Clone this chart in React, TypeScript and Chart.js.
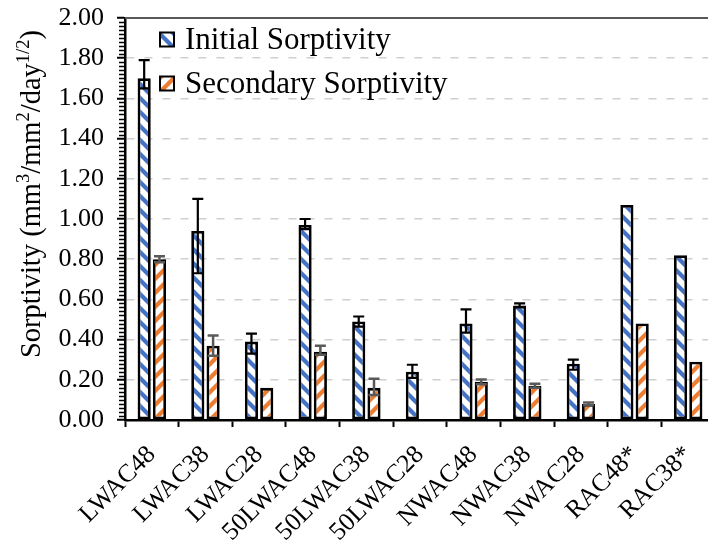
import React, { useEffect, useRef } from "react";
import { Chart, registerables } from "chart.js";

Chart.register(...registerables);

const categories = [
  "LWAC48", "LWAC38", "LWAC28", "50LWAC48", "50LWAC38", "50LWAC28",
  "NWAC48", "NWAC38", "NWAC28", "RAC48*", "RAC38*",
];
const initialValues = [1.70, 0.94, 0.39, 0.97, 0.49, 0.24, 0.48, 0.57, 0.28, 1.07, 0.82];
const initialErrPlus = [0.09, 0.16, 0.04, 0.03, 0.025, 0.035, 0.07, 0.01, 0.02, 0, 0];
const initialErrMinus = [0.05, 0.21, 0.06, 0.02, 0.025, 0.03, 0.045, 0.01, 0.03, 0, 0];
const secondaryValues = [0.80, 0.37, 0.16, 0.34, 0.16, null, 0.19, 0.17, 0.08, 0.48, 0.29];
const secondaryErrPlus = [0.015, 0.05, 0, 0.03, 0.045, 0, 0.012, 0.01, 0.007, 0, 0];
const secondaryErrMinus = [0.015, 0.05, 0, 0.015, 0.035, 0, 0.012, 0.01, 0.007, 0, 0];
const seriesNames = ["Initial Sorptivity", "Secondary Sorptivity"];
const yMin = 0;
const yMax = 2;
const yStep = 0.2;
const yMinorStep = 0.02;

const BLUE = "#4472C4";
const ORANGE = "#ED7D31";
const SERIF = '"Liberation Serif", "Times New Roman", serif';

function makePattern(color: string, dir: "back" | "fwd") {
  const s = 14;
  const c = document.createElement("canvas");
  c.width = s;
  c.height = s;
  const g = c.getContext("2d")!;
  g.fillStyle = "#ffffff";
  g.fillRect(0, 0, s, s);
  g.strokeStyle = color;
  g.lineWidth = 4.2;
  for (let k = -1; k <= 1; k++) {
    g.beginPath();
    if (dir === "back") {
      g.moveTo(k * s - 3, -3);
      g.lineTo(k * s + s + 3, s + 3);
    } else {
      g.moveTo(k * s - 3, s + 3);
      g.lineTo(k * s + s + 3, -3);
    }
    g.stroke();
  }
  return g.createPattern(c, "repeat")!;
}

export default function App() {
  const ref = useRef<HTMLCanvasElement | null>(null);

  useEffect(() => {
    document.body.style.margin = "0";
    const canvas = ref.current!;
    const ctx0 = canvas.getContext("2d")!;
    const bluePat = makePattern(BLUE, "back");
    const orangePat = makePattern(ORANGE, "fwd");

    const errorBars = {
      id: "errorBars",
      afterDatasetsDraw(chart: any) {
        const ctx = chart.ctx;
        const ys = chart.scales.y;
        const specs = [
          { plus: initialErrPlus, minus: initialErrMinus, color: "#000000", width: 2.2 },
          { plus: secondaryErrPlus, minus: secondaryErrMinus, color: "#595959", width: 2.5 },
        ];
        specs.forEach((s, di) => {
          const meta = chart.getDatasetMeta(di);
          const vals = chart.data.datasets[di].data;
          meta.data.forEach((bar: any, i: number) => {
            const v = vals[i];
            if (v == null) return;
            const p = s.plus[i];
            const m = s.minus[i];
            if (!p && !m) return;
            const x = bar.x;
            const yt = ys.getPixelForValue(v + p);
            const yb = ys.getPixelForValue(v - m);
            const cap = 5.5;
            ctx.save();
            ctx.strokeStyle = s.color;
            ctx.lineWidth = s.width;
            ctx.beginPath();
            ctx.moveTo(x, yt);
            ctx.lineTo(x, yb);
            ctx.moveTo(x - cap, yt);
            ctx.lineTo(x + cap, yt);
            ctx.moveTo(x - cap, yb);
            ctx.lineTo(x + cap, yb);
            ctx.stroke();
            ctx.restore();
          });
        });
      },
    };

    const decorations = {
      id: "decorations",
      afterDraw(chart: any) {
        const ctx = chart.ctx;
        const area = chart.chartArea;
        const ys = chart.scales.y;
        ctx.save();
        // top border
        ctx.strokeStyle = "#595959";
        ctx.lineWidth = 2;
        ctx.beginPath();
        ctx.moveTo(area.left, area.top);
        ctx.lineTo(area.right, area.top);
        ctx.stroke();
        // minor ticks
        ctx.strokeStyle = "#000000";
        ctx.lineWidth = 1.3;
        const n = Math.round((yMax - yMin) / yMinorStep);
        ctx.beginPath();
        for (let i = 0; i <= n; i++) {
          if (i % Math.round(yStep / yMinorStep) === 0) continue;
          const y = Math.round(ys.getPixelForValue(yMin + i * yMinorStep)) + 0.5;
          ctx.moveTo(area.left - 6, y);
          ctx.lineTo(area.left, y);
        }
        ctx.stroke();

        // legend
        const pats = [bluePat, orangePat];
        const rows = [39.5, 83.5];
        rows.forEach((cy, i) => {
          const bx = 160;
          const size = 14;
          ctx.fillStyle = pats[i];
          ctx.fillRect(bx, cy - size / 2, size, size);
          ctx.strokeStyle = "#000";
          ctx.lineWidth = 2;
          ctx.strokeRect(bx, cy - size / 2, size, size);
          ctx.fillStyle = "#000";
          ctx.font = `31px ${SERIF}`;
          ctx.textBaseline = "middle";
          ctx.textAlign = "left";
          ctx.fillText(seriesNames[i], 185, cy + 1);
        });

        // y title with superscripts
        ctx.translate(40, 358);
        ctx.rotate(-Math.PI / 2);
        ctx.textBaseline = "alphabetic";
        ctx.textAlign = "left";
        const parts: [string, boolean][] = [
          ["Sorptivity (mm", false],
          ["3", true],
          ["/mm", false],
          ["2", true],
          ["/day", false],
          ["1/2", true],
          [")", false],
        ];
        let x = 0;
        for (const [t, sup] of parts) {
          ctx.font = sup ? `18.5px ${SERIF}` : `28.5px ${SERIF}`;
          ctx.fillText(t, x, sup ? -11 : 0);
          x += ctx.measureText(t).width;
        }
        ctx.restore();
      },
    };

    const chart = new Chart(ctx0, {
      type: "bar",
      data: {
        labels: categories,
        datasets: [
          {
            label: seriesNames[0],
            data: initialValues,
            backgroundColor: bluePat as any,
            borderColor: "#000000",
            borderWidth: 2.8,
            borderSkipped: false,
          },
          {
            label: seriesNames[1],
            data: secondaryValues as any,
            backgroundColor: orangePat as any,
            borderColor: "#000000",
            borderWidth: 2.8,
            borderSkipped: false,
          },
        ],
      },
      options: {
        responsive: false,
        animation: false,
        devicePixelRatio: 1,
        categoryPercentage: 0.57,
        barPercentage: 0.86,
        layout: { padding: { top: 18, right: 15, left: 0, bottom: 0 } },
        plugins: {
          legend: { display: false },
          tooltip: { enabled: false },
          title: { display: false },
        },
        scales: {
          x: {
            grid: {
              display: true,
              drawOnChartArea: false,
              drawTicks: true,
              tickLength: 7,
              tickColor: "#000",
              tickWidth: 2,
              offset: true,
            },
            border: { display: true, color: "#000", width: 2.5 },
            ticks: {
              color: "#000",
              font: { family: SERIF, size: 25.5 },
              maxRotation: 45,
              minRotation: 45,
              padding: 13,
              autoSkip: false,
            },
            afterFit: (scale: any) => {
              scale.height = 126;
              scale.paddingTop = 0;
              scale.paddingBottom = 0;
            },
          },
          y: {
            min: yMin,
            max: yMax,
            grid: {
              color: "#cfcfcf",
              lineWidth: 1.5,
              tickLength: 8,
              tickColor: "#000",
              tickWidth: 2,
            },
            border: { display: true, color: "#000", width: 2.5, dash: [8, 10] },
            ticks: {
              stepSize: yStep,
              color: "#000",
              font: { family: SERIF, size: 26 },
              padding: 13,
              callback: (v: any) => Number(v).toFixed(2),
            },
            afterFit: (scale: any) => {
              scale.width = 125;
              scale.paddingTop = 0;
              scale.paddingBottom = 0;
            },
          },
        },
      },
      plugins: [errorBars, decorations],
    });
    return () => chart.destroy();
  }, []);

  return (
    <div style={{ width: 708, height: 546, overflow: "hidden", position: "relative", background: "#fff" }}>
      <canvas ref={ref} width={730} height={546} style={{ display: "block", width: 730, height: 546 }} />
    </div>
  );
}
